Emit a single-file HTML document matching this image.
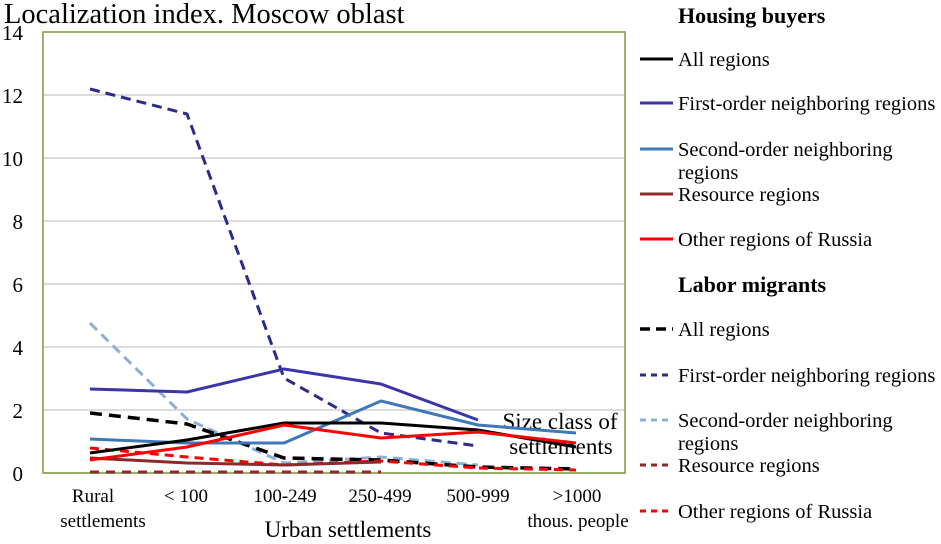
<!DOCTYPE html>
<html><head><style>
html,body{margin:0;padding:0;background:#fff;}
svg{display:block;font-family:"Liberation Serif",serif;}
</style></head><body>
<svg width="941" height="544" viewBox="0 0 941 544" xmlns="http://www.w3.org/2000/svg">
<rect width="941" height="544" fill="#fff"/>
<g stroke="#d0d0d0" stroke-width="1.5">
<line x1="43" y1="95" x2="625" y2="95"/>
<line x1="43" y1="158" x2="625" y2="158"/>
<line x1="43" y1="221" x2="625" y2="221"/>
<line x1="43" y1="284" x2="625" y2="284"/>
<line x1="43" y1="347" x2="625" y2="347"/>
<line x1="43" y1="410" x2="625" y2="410"/>
<line x1="43" y1="473" x2="625" y2="473"/>
</g>
<rect x="43" y="32" width="582" height="441" fill="none" stroke="#7a9a3a" stroke-width="1.5"/>
<g font-size="21" text-anchor="end" fill="#000">
<text x="23" y="40">14</text><text x="23" y="103">12</text><text x="23" y="166">10</text>
<text x="23" y="229">8</text><text x="23" y="292">6</text><text x="23" y="355">4</text>
<text x="23" y="418">2</text><text x="23" y="481">0</text>
</g>
<text x="4" y="23" font-size="28.5">Localization index. Moscow oblast</text>
<g font-size="19" text-anchor="middle">
<text x="93" y="502">Rural</text><text x="103" y="527">settlements</text>
<text x="186" y="502">&lt; 100</text>
<text x="285" y="502">100-249</text>
<text x="380" y="502">250-499</text>
<text x="478" y="502">500-999</text>
<text x="577" y="502">&gt;1000</text>
<text x="578" y="527">thous. people</text>
<text x="348" y="537" font-size="23">Urban settlements</text>
<text x="560" y="429" font-size="23">Size class of</text>
<text x="561" y="454" font-size="23">settlements</text>
</g>
<g fill="none" stroke-width="3" stroke-linejoin="round">
<polyline stroke="#2d2a8c" stroke-dasharray="10,6" points="90,89 187,114 284,378 381,433 478,446"/>
<polyline stroke="#8db0d8" stroke-dasharray="10,6" points="90,323 187,419 284,463 381,457 478,465"/>
<polyline stroke="#000" stroke-width="3.5" stroke-dasharray="12,7" points="90,413 187,424 284,458 381,460 478,467 576,469"/>
<polyline stroke="#8b2a2a" stroke-dasharray="9,7" points="90,472 187,472 284,472 381,472"/>
<polyline stroke="#ff0000" stroke-dasharray="9,6" points="90,448 187,457 284,465 381,461 478,468 576,470"/>
<polyline stroke="#3a35a8" points="90,389 187,392 284,369 381,384 478,420"/>
<polyline stroke="#3f78b8" points="90,439 187,443 284,443 381,401 478,425 576,433"/>
<polyline stroke="#8b2a2a" points="90,458 187,463 284,465 381,462"/>
<polyline stroke="#000" points="90,453 187,440 284,423 381,423 478,430 576,447"/>
<polyline stroke="#ff0000" points="90,460 187,447 284,425 381,438 478,432 576,443"/>
</g>
<g font-size="20.5">
<text x="678" y="23" font-weight="bold" font-size="22">Housing buyers</text>
<text x="678" y="66">All regions</text>
<text x="678" y="110">First-order neighboring regions</text>
<text x="678" y="156">Second-order neighboring</text>
<text x="678" y="179">regions</text>
<text x="678" y="201">Resource regions</text>
<text x="678" y="246">Other regions of Russia</text>
<text x="678" y="292" font-weight="bold" font-size="22">Labor migrants</text>
<text x="678" y="336">All regions</text>
<text x="678" y="382">First-order neighboring regions</text>
<text x="678" y="427">Second-order neighboring</text>
<text x="678" y="450">regions</text>
<text x="678" y="472">Resource regions</text>
<text x="678" y="518">Other regions of Russia</text>
</g>
<g stroke-width="3">
<line x1="640" y1="59" x2="673" y2="59" stroke="#000"/>
<line x1="640" y1="103" x2="673" y2="103" stroke="#3a35a8"/>
<line x1="640" y1="149" x2="673" y2="149" stroke="#3f78b8"/>
<line x1="640" y1="194" x2="673" y2="194" stroke="#8b2a2a"/>
<line x1="640" y1="239" x2="673" y2="239" stroke="#ff0000"/>
<line x1="640" y1="329" x2="673" y2="329" stroke="#000" stroke-width="3.5" stroke-dasharray="10,6"/>
<line x1="640" y1="375" x2="673" y2="375" stroke="#2d2a8c" stroke-dasharray="6,5"/>
<line x1="640" y1="420" x2="673" y2="420" stroke="#8db0d8" stroke-dasharray="6,5"/>
<line x1="640" y1="465" x2="673" y2="465" stroke="#8b2a2a" stroke-dasharray="6,5"/>
<line x1="640" y1="511" x2="673" y2="511" stroke="#ff0000" stroke-dasharray="6,5"/>
</g>
</svg>
</body></html>
